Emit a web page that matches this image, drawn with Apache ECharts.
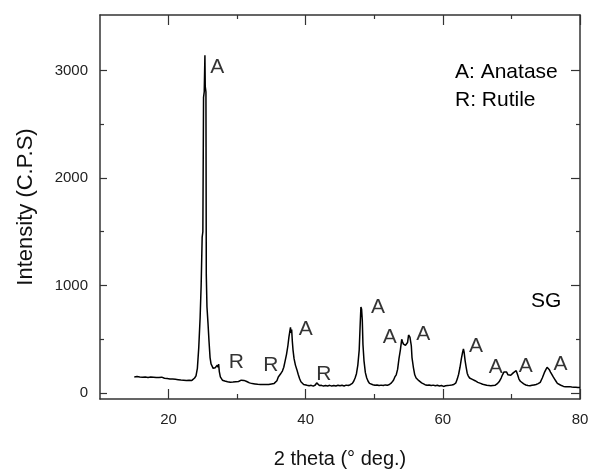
<!DOCTYPE html>
<html>
<head>
<meta charset="utf-8">
<script src="https://cdn.jsdelivr.net/npm/echarts@6/dist/echarts.min.js"></script>
<style>html,body{margin:0;padding:0;background:#fff}#c{width:590px;height:472px}</style>
</head>
<body>
<div id="c"></div>
<script>
// ---- data ----
const twoTheta = [
15.0,15.2,15.4,15.6,15.8,16.0,16.2,16.4,16.6,16.8,17.0,17.2,17.4,17.6,17.8,18.0,18.2,18.4,18.6,18.8,
19.0,19.2,19.4,19.6,19.8,20.0,20.2,20.4,20.6,20.8,21.0,21.2,21.4,21.6,21.8,22.0,22.2,22.4,22.6,22.8,
23.0,23.2,23.4,23.6,23.8,24.0,24.2,24.4,24.6,24.75,24.9,25.0,25.1,25.2,25.3,25.35,25.45,25.5,25.6,25.75,
25.9,26.05,26.2,26.35,26.5,26.65,26.8,26.95,27.1,27.2,27.3,27.4,27.55,27.7,27.85,28.0,28.2,28.4,28.6,28.8,
29.0,29.2,29.4,29.6,29.8,30.0,30.2,30.4,30.6,30.8,31.0,31.2,31.4,31.6,31.8,32.0,32.2,32.4,32.6,32.8,
33.0,33.2,33.4,33.6,33.8,34.0,34.2,34.4,34.6,34.8,35.0,35.2,35.4,35.6,35.8,36.0,36.2,36.4,36.6,36.8,
37.0,37.2,37.4,37.55,37.7,37.78,37.85,37.95,38.05,38.15,38.3,38.5,38.7,38.9,39.1,39.3,39.5,39.7,39.9,40.2,
40.5,40.8,41.1,41.4,41.6,41.8,42.0,42.3,42.6,42.9,43.2,43.5,43.8,44.1,44.4,44.7,45.0,45.3,45.6,45.9,
46.2,46.5,46.8,47.0,47.2,47.4,47.6,47.8,47.95,48.05,48.15,48.25,48.35,48.5,48.7,48.9,49.1,49.3,49.5,49.8,
50.1,50.4,50.7,51.0,51.3,51.6,51.9,52.2,52.5,52.8,53.0,53.2,53.4,53.6,53.8,54.0,54.1,54.25,54.4,54.55,
54.7,54.85,55.0,55.1,55.2,55.3,55.4,55.5,55.7,55.9,56.1,56.3,56.5,56.7,56.9,57.1,57.4,57.7,58.0,58.3,
58.6,58.9,59.2,59.5,59.8,60.1,60.4,60.7,61.0,61.3,61.6,61.9,62.1,62.3,62.5,62.7,62.85,63.0,63.1,63.25,
63.4,63.55,63.7,63.9,64.1,64.3,64.5,64.7,64.9,65.1,65.3,65.5,65.8,66.1,66.4,66.7,67.0,67.3,67.6,67.9,
68.2,68.5,68.7,68.9,69.1,69.3,69.5,69.7,69.9,70.1,70.3,70.5,70.7,70.9,71.1,71.3,71.5,71.8,72.1,72.4,
72.7,73.0,73.3,73.6,73.9,74.2,74.5,74.8,75.0,75.2,75.35,75.5,75.7,75.9,76.1,76.3,76.5,76.7,77.0,77.3,
77.6,77.9,78.2,78.5,78.8,79.1,79.4,79.7,80.0
];
const intensity = [
150,140,155,145,150,140,148,142,150,138,145,140,150,142,148,140,145,150,145,140,
148,142,138,145,135,140,132,138,130,135,128,132,125,130,122,128,120,126,118,124,
120,125,118,125,140,160,230,420,700,1000,1450,1500,2750,2800,3140,2850,2800,1100,800,650,
480,330,270,250,230,215,235,220,260,240,270,200,150,135,120,125,112,118,105,110,
100,108,102,110,105,112,108,115,120,112,118,110,108,100,95,98,88,92,85,90,
82,88,80,85,80,86,80,85,80,88,85,92,90,100,115,150,165,185,205,240,
300,360,440,520,580,611,560,590,480,400,320,260,220,175,135,105,90,80,75,72,
68,72,65,75,95,85,70,72,65,70,66,72,65,70,66,72,68,72,66,74,
70,78,90,110,140,180,260,400,650,800,780,680,450,300,190,140,110,90,82,78,
72,75,70,74,70,76,72,80,95,120,150,170,220,320,400,500,480,455,440,445,
440,470,540,555,520,530,440,330,240,170,140,125,115,100,95,85,78,72,75,70,
74,68,72,66,70,62,68,70,72,75,80,95,130,175,240,320,370,410,380,300,
240,185,160,140,135,128,120,115,110,100,98,90,82,78,72,70,68,70,72,85,
105,140,170,195,190,195,170,160,165,175,190,200,208,170,130,110,95,85,75,70,
68,72,76,80,88,100,140,190,215,240,254,220,195,180,150,130,110,90,80,70,
62,60,58,60,56,55,54,52,52
];
const xMajorTicks = [20, 40, 60, 80];
const xMinorTicks = [30, 50, 70];
const yMajorTicks = [0, 1000, 2000, 3000];
const yMinorTicks = [500, 1500, 2500];
const peakLabelText = ['A','R','R','A','R','A','A','A','A','A','A','A'];
const peakLabelX = [27.1, 29.9, 34.9, 40.0, 42.65, 50.56, 52.24, 57.15, 64.83, 67.7, 72.1, 77.16];
const peakLabelY = [3032, 285, 263, 596, 177, 803, 518, 549, 440, 238, 254, 270];
const legendLines = ['A: Anatase', 'R: Rutile'];
const sampleName = 'SG';

// ---- chart ----
const FONT = 'Liberation Sans, Arial, sans-serif';
const AX = '#333';
const xMin = 10, xMax = 80, yMin = -55, yMax = 3515;
const lineStyle = {color: AX, width: 1.5};
const plain = v => String(v);
function xAx(pos, ticks, len, showLine, showLabel, extra) {
  return Object.assign({
    type: 'value', position: pos, min: xMin, max: xMax, gridIndex: 0,
    splitLine: {show: false},
    axisLine: {show: showLine, onZero: false, lineStyle: lineStyle},
    axisTick: {show: true, inside: true, length: len, customValues: ticks, lineStyle: {color: AX, width: 1.2}},
    axisLabel: showLabel ? {show: true, customValues: ticks, formatter: plain, fontSize: 15, color: '#222', fontFamily: FONT, margin: 13}
                         : {show: false}
  }, extra || {});
}
function yAx(pos, ticks, len, showLine, showLabel, extra) {
  return Object.assign({
    type: 'value', position: pos, min: yMin, max: yMax, gridIndex: 0,
    splitLine: {show: false},
    axisLine: {show: showLine, onZero: false, lineStyle: lineStyle},
    axisTick: {show: true, inside: true, length: len, customValues: ticks, lineStyle: {color: AX, width: 1.2}},
    axisLabel: showLabel ? {show: true, customValues: ticks, formatter: plain, fontSize: 15, color: '#222', fontFamily: FONT, margin: 12}
                         : {show: false}
  }, extra || {});
}

const chart = echarts.init(document.getElementById('c'), null, {renderer: 'canvas'});
chart.setOption({
  animation: false,
  backgroundColor: '#fff',
  grid: {left: 100, right: 10, top: 15, bottom: 73, containLabel: false, outerBoundsMode: 'none'},
  xAxis: [
    xAx('bottom', xMajorTicks, 10, true, true, {
      name: '2 theta (\u00B0 deg.)', nameLocation: 'middle', nameGap: 50,
      nameTextStyle: {fontSize: 20, color: '#111', fontFamily: FONT}
    }),
    xAx('bottom', xMinorTicks, 5, false, false),
    xAx('top', xMajorTicks, 10, true, false),
    xAx('top', xMinorTicks, 4, false, false)
  ],
  yAxis: [
    yAx('left', yMajorTicks, 7, true, true, {
      name: 'Intensity (C.P.S)', nameLocation: 'middle', nameGap: 63, nameRotate: 90,
      nameTextStyle: {fontSize: 22, color: '#111', fontFamily: FONT}
    }),
    yAx('left', yMinorTicks, 4, false, false),
    yAx('right', yMajorTicks, 9, true, false),
    yAx('right', yMinorTicks, 4, false, false)
  ],
  series: [
    {
      type: 'line', xAxisIndex: 0, yAxisIndex: 0, showSymbol: false, symbol: 'none',
      lineStyle: {color: '#000', width: 1.5}, silent: true,
      data: twoTheta.map((x, i) => [x, intensity[i]])
    },
    {
      type: 'scatter', xAxisIndex: 0, yAxisIndex: 0, symbol: 'circle', symbolSize: 0.1,
      itemStyle: {color: 'rgba(0,0,0,0)'}, silent: true,
      label: {show: true, position: 'inside', fontSize: 21, color: '#000', fontFamily: FONT,
              formatter: p => peakLabelText[p.dataIndex]},
      data: peakLabelX.map((x, i) => [x, peakLabelY[i]])
    }
  ],
  graphic: [
    {type: 'text', left: 455, top: 62, style: {text: legendLines[0], font: '21px ' + FONT, fill: '#000'}},
    {type: 'text', left: 455, top: 90, style: {text: legendLines[1], font: '21px ' + FONT, fill: '#000'}},
    {type: 'text', left: 531, top: 291, style: {text: sampleName, font: '21px ' + FONT, fill: '#000'}}
  ]
});
</script>
</body>
</html>
